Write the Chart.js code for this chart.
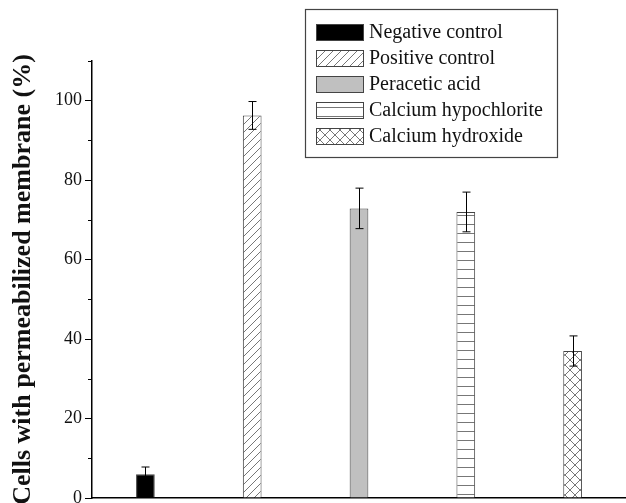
<!DOCTYPE html>
<html>
<head>
<meta charset="utf-8">
<script src="https://cdn.jsdelivr.net/npm/chart.js@4/dist/chart.umd.min.js"></script>
<style>
html,body{margin:0;padding:0;background:#fff;}
#wrap{width:626px;height:503px;position:relative;}
</style>
</head>
<body>
<div id="wrap"><canvas id="c"></canvas></div>
<script>
const categories = ['Negative control','Positive control','Peracetic acid','Calcium hypochlorite','Calcium hydroxide'];
const values = [6.0, 96.3, 72.9, 72.0, 37.0];
const errors = [1.8, 3.5, 5.1, 5.0, 3.8];
const yTickLabels = [0, 20, 40, 60, 80, 100];
const yMinorTicks = [10, 30, 50, 70, 90, 110];
const yTitle = 'Cells with permeabilized membrane (%)';

const SERIF = '"Liberation Serif", "Times New Roman", serif';

function makePattern(kind){
  const s = kind === 'cross' ? 10 : (kind === 'horiz' ? 9 : 8);
  const c = document.createElement('canvas');
  c.width = s; c.height = s;
  const g = c.getContext('2d');
  g.fillStyle = '#fff'; g.fillRect(0,0,s,s);
  g.strokeStyle = '#777'; g.lineWidth = 1;
  g.beginPath();
  if (kind === 'diag'){
    g.moveTo(-1, s+1); g.lineTo(s+1, -1);
    g.moveTo(-1-s, s+1); g.lineTo(1, -1);
    g.moveTo(s-1, s+1); g.lineTo(2*s+1, -1);
  } else if (kind === 'horiz'){
    g.moveTo(0, s-0.5); g.lineTo(s, s-0.5);
  } else if (kind === 'cross'){
    g.moveTo(0,0); g.lineTo(s,s);
    g.moveTo(s,0); g.lineTo(0,s);
  }
  g.stroke();
  return document.createElement('canvas').getContext('2d').createPattern(c,'repeat');
}
const fills = ['#000000', makePattern('diag'), '#c0c0c0', makePattern('horiz'), makePattern('cross')];

const errorBars = {
  id: 'errorBars',
  afterDatasetsDraw(chart){
    const ctx = chart.ctx, y = chart.scales.y;
    const meta = chart.getDatasetMeta(0);
    ctx.save();
    ctx.strokeStyle = '#000'; ctx.lineWidth = 1;
    meta.data.forEach((bar, i) => {
      const x = Math.round(bar.x) + 0.5;
      const yt = y.getPixelForValue(values[i] + errors[i]);
      const yb = y.getPixelForValue(values[i] - errors[i]);
      ctx.beginPath();
      ctx.moveTo(x, yt); ctx.lineTo(x, yb);
      ctx.moveTo(x-4, yt); ctx.lineTo(x+4, yt);
      ctx.moveTo(x-4, yb); ctx.lineTo(x+4, yb);
      ctx.stroke();
    });
    ctx.restore();
  }
};

const minorTicks = {
  id: 'minorTicks',
  afterDraw(chart){
    const ctx = chart.ctx, y = chart.scales.y;
    const x0 = chart.chartArea.left;
    ctx.save();
    ctx.strokeStyle = '#000'; ctx.lineWidth = 1;
    yMinorTicks.forEach(v => {
      const py = Math.round(y.getPixelForValue(v)) + 0.5;
      ctx.beginPath(); ctx.moveTo(x0 - 4, py); ctx.lineTo(x0, py); ctx.stroke();
    });
    ctx.restore();
  }
};

const boxLegend = {
  id: 'boxLegend',
  afterDraw(chart){
    const ctx = chart.ctx;
    const bx = 305.5, by = 9.5, bw = 252, bh = 148;
    ctx.save();
    ctx.fillStyle = '#fff';
    ctx.fillRect(bx, by, bw, bh);
    ctx.strokeStyle = '#444'; ctx.lineWidth = 1.2;
    ctx.strokeRect(bx, by, bw, bh);
    ctx.font = '20px ' + SERIF;
    ctx.textBaseline = 'middle';
    ctx.textAlign = 'left';
    categories.forEach((name, i) => {
      const top = 24 + i * 26;
      ctx.fillStyle = fills[i];
      ctx.fillRect(316, top, 48, 17);
      ctx.strokeStyle = '#444'; ctx.lineWidth = 1;
      ctx.strokeRect(316.5, top + 0.5, 47, 16);
      ctx.fillStyle = '#111';
      ctx.fillText(name, 369, top + 9);
    });
    ctx.restore();
  }
};

new Chart(document.getElementById('c'), {
  type: 'bar',
  data: {
    labels: categories,
    datasets: [{
      data: values,
      backgroundColor: fills,
      borderColor: '#444',
      borderWidth: 1,
      barPercentage: 0.175,
      categoryPercentage: 1.0
    }]
  },
  options: {
    responsive: true,
    maintainAspectRatio: false,
    animation: false,
    layout: { padding: { top: 61, right: 0, bottom: 5, left: 0 } },
    plugins: { legend: { display: false }, tooltip: { enabled: false } },
    scales: {
      x: {
        grid: { display: false, drawTicks: false },
        ticks: { display: false },
        border: { display: true, color: '#000', width: 1.5 }
      },
      y: {
        min: 0, max: 110,
        afterBuildTicks(scale){ scale.ticks = yTickLabels.map(v => ({ value: v })); },
        afterFit(scale){ scale.width = 92; scale.paddingTop = 0; scale.paddingBottom = 0; },
        ticks: {
          color: '#111',
          font: { family: SERIF, size: 18 },
          padding: 3,
          callback: v => String(v)
        },
        grid: { display: true, drawOnChartArea: false, tickLength: 7, tickColor: '#000' },
        border: { display: true, color: '#000', width: 1.5 },
        title: {
          display: true,
          text: yTitle,
          color: '#111',
          font: { family: SERIF, size: 26, weight: 'bold' },
          padding: { top: 8, bottom: 0 }
        }
      }
    }
  },
  plugins: [errorBars, minorTicks, boxLegend]
});
</script>
</body>
</html>
